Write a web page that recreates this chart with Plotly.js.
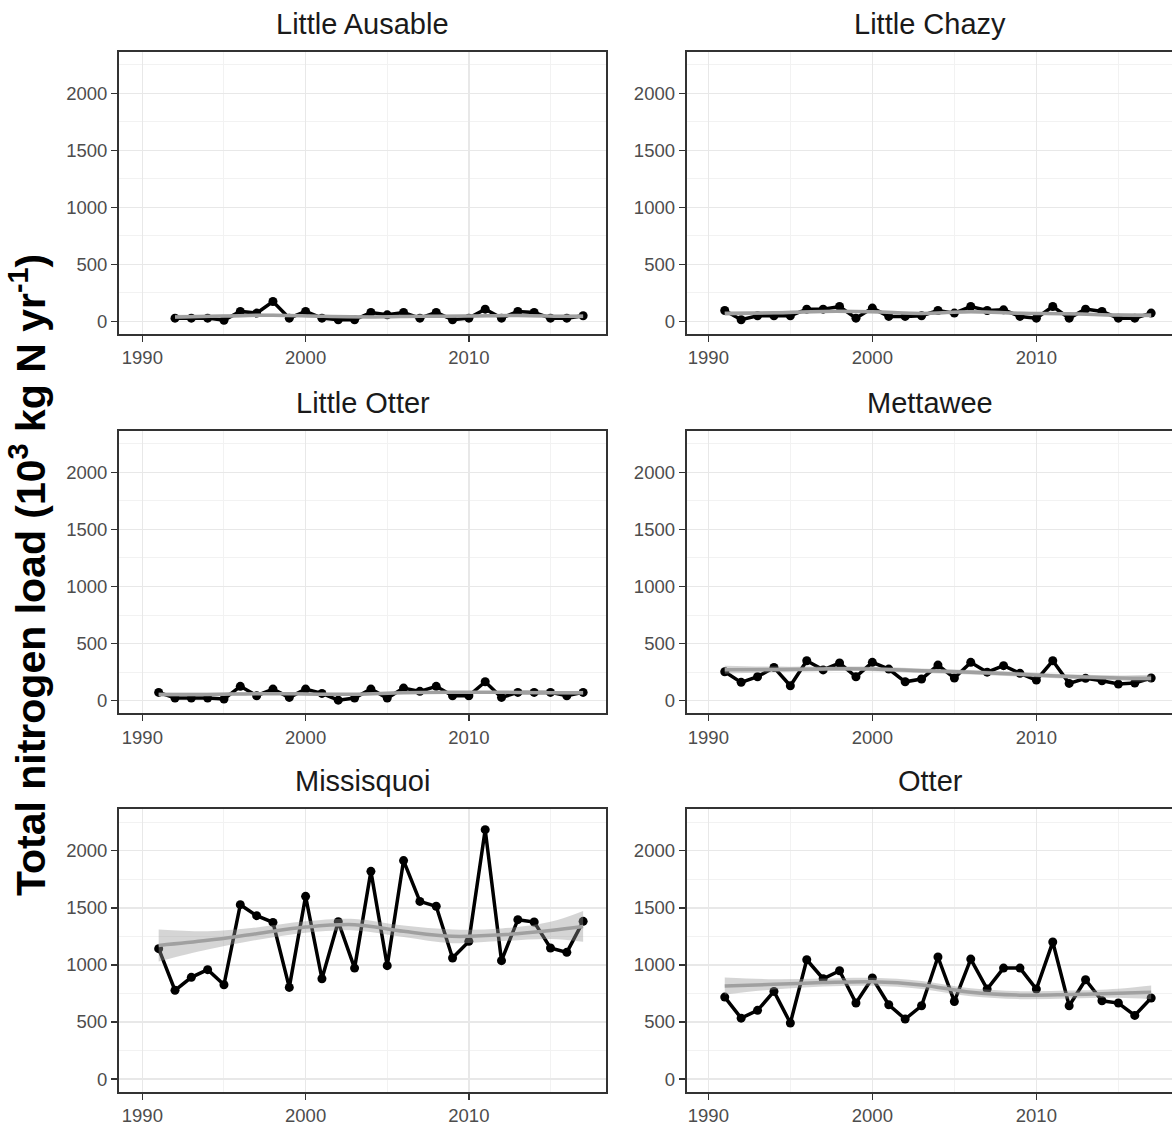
<!DOCTYPE html>
<html>
<head>
<meta charset="utf-8">
<script src="https://cdn.plot.ly/plotly-3.0.1.min.js"></script>
<style>html,body{margin:0;padding:0;background:#fff;}#chart{width:1172px;height:1125px;}</style>
</head>
<body>
<div id="chart"></div>
<script>
// ---------- data (10^3 kg N / yr) ----------
const years = [1991,1992,1993,1994,1995,1996,1997,1998,1999,2000,2001,2002,2003,2004,2005,2006,2007,2008,2009,2010,2011,2012,2013,2014,2015,2016,2017];
const yearsAusable = [1992,1993,1994,1995,1996,1997,1998,1999,2000,2001,2002,2003,2004,2005,2006,2007,2008,2009,2010,2011,2012,2013,2014,2015,2016,2017];

const littleAusable = [29,29,29,10,88,73,175,29,88,29,15,15,79,58,79,29,79,15,29,108,29,88,79,29,29,50];
const littleChazy   = [96,15,50,50,50,108,108,131,29,117,44,44,50,96,73,131,96,102,44,29,131,29,108,88,29,29,73];
const littleOtter   = [73,23,23,23,15,126,44,102,29,102,64,5,23,102,23,111,82,126,44,44,166,29,73,73,73,44,73];
const mettawee      = [254,161,210,292,131,350,270,330,210,336,277,166,190,312,199,336,250,307,240,181,350,152,196,175,146,155,199];
const missisquoi    = [1142,777,891,958,826,1527,1431,1372,803,1600,879,1378,972,1819,993,1913,1556,1513,1060,1206,2184,1037,1396,1375,1148,1110,1381];
const otter         = [718,534,602,768,491,1045,879,949,666,885,651,526,642,1069,680,1051,788,972,972,788,1200,642,870,686,666,558,710];

// smooth (loess) fit and half-width of confidence band
const smoothYears        = [1991,1994,1997,2000,2003,2006,2009,2012,2015,2017];
const smoothYearsAusable = [1992,1995,1998,2001,2004,2007,2010,2013,2016,2017];
const fitLittleAusable = [40,48,55,45,40,45,48,52,45,45];
const seLittleAusable  = [18,14,12,12,12,12,12,12,14,18];
const fitLittleChazy   = [70,76,88,85,70,85,72,68,56,55];
const seLittleChazy    = [20,15,13,13,13,13,13,13,15,20];
const fitLittleOtter   = [55,55,62,60,56,70,74,74,70,70];
const seLittleOtter    = [18,14,12,12,12,12,12,12,14,18];
const fitMettawee      = [272,274,279,278,263,250,232,212,200,196];
const seMettawee       = [35,25,20,20,20,20,20,20,22,32];
const fitMissisquoi    = [1170,1215,1273,1331,1352,1294,1250,1264,1302,1337];
const seMissisquoi     = [140,80,55,50,50,50,60,55,75,135];
const fitOtter         = [815,830,845,852,825,760,735,740,752,760];
const seOtter          = [75,45,35,35,35,35,35,35,40,60];

const panelNames = ["Little Ausable","Little Chazy","Little Otter","Mettawee","Missisquoi","Otter"];
const yTickVals = [0,500,1000,1500,2000];
const xTickVals = [1990,2000,2010];

// ---------- build ----------
const panels = [
  {name: panelNames[0], x: yearsAusable, y: littleAusable, sx: smoothYearsAusable, fit: fitLittleAusable, se: seLittleAusable},
  {name: panelNames[1], x: years, y: littleChazy, sx: smoothYears, fit: fitLittleChazy, se: seLittleChazy},
  {name: panelNames[2], x: years, y: littleOtter, sx: smoothYears, fit: fitLittleOtter, se: seLittleOtter},
  {name: panelNames[3], x: years, y: mettawee, sx: smoothYears, fit: fitMettawee, se: seMettawee},
  {name: panelNames[4], x: years, y: missisquoi, sx: smoothYears, fit: fitMissisquoi, se: seMissisquoi},
  {name: panelNames[5], x: years, y: otter, sx: smoothYears, fit: fitOtter, se: seOtter}
];

const W = 1172, H = 1125;
const colDom = [[119/W, 606/W], [686.7/W, 1.0]];
const colRange = [[1988.57, 2018.4], [1988.68, 2018.27]];
const rowTops = [52, 431, 809.3], rowBots = [334, 713.3, 1091.7];
const rowDom = rowTops.map((t,i) => [1 - rowBots[i]/H, 1 - t/H]);

const traces = [];
const layout = {
  width: W, height: H,
  margin: {l:0, r:0, t:0, b:0},
  paper_bgcolor: '#ffffff', plot_bgcolor: '#ffffff',
  showlegend: false,
  font: {family: 'Liberation Sans, Arial, sans-serif', color: '#4d4d4d'},
  annotations: []
};

panels.forEach((p, i) => {
  const r = Math.floor(i/2), c = i % 2;
  const n = i + 1;
  const xa = 'x' + (n === 1 ? '' : n), ya = 'y' + (n === 1 ? '' : n);
  const xkey = 'xaxis' + (n === 1 ? '' : n), ykey = 'yaxis' + (n === 1 ? '' : n);

  traces.push({x: p.x, y: p.y, xaxis: xa, yaxis: ya, type: 'scatter', mode: 'lines+markers',
    line: {color: '#000000', width: 3.5}, marker: {color: '#000000', size: 9}, hoverinfo: 'x+y'});
  const lo = p.fit.map((v, k) => v - p.se[k]);
  const hi = p.fit.map((v, k) => v + p.se[k]);
  traces.push({x: p.sx, y: lo, xaxis: xa, yaxis: ya, type: 'scatter', mode: 'lines',
    line: {width: 0, shape: 'spline', smoothing: 1}, hoverinfo: 'skip'});
  traces.push({x: p.sx, y: hi, xaxis: xa, yaxis: ya, type: 'scatter', mode: 'lines', fill: 'tonexty',
    fillcolor: 'rgba(150,150,150,0.4)', line: {width: 0, shape: 'spline', smoothing: 1}, hoverinfo: 'skip'});
  traces.push({x: p.sx, y: p.fit, xaxis: xa, yaxis: ya, type: 'scatter', mode: 'lines',
    line: {color: '#a0a0a0', width: 3.5, shape: 'spline', smoothing: 1}, hoverinfo: 'skip'});

  layout[xkey] = {
    domain: colDom[c], anchor: ya, range: colRange[c],
    tickvals: xTickVals, ticktext: xTickVals.map(String),
    showgrid: true, gridcolor: '#e8e8e8', gridwidth: 1.5,
    minor: {tickvals: [1995, 2005, 2015], showgrid: true, gridcolor: '#f2f2f2', gridwidth: 1, ticks: ''},
    zeroline: false, showline: true, mirror: true, linecolor: '#333333', linewidth: 2,
    ticks: 'outside', ticklen: 6, tickwidth: 1.5, tickcolor: '#333333',
    tickfont: {size: 18.5, color: '#4d4d4d'}, fixedrange: true
  };
  layout[ykey] = {
    domain: rowDom[r], anchor: xa, range: [-110, 2362],
    tickvals: yTickVals, ticktext: yTickVals.map(String),
    showgrid: true, gridcolor: '#e8e8e8', gridwidth: 1.5,
    minor: {tickvals: [250, 750, 1250, 1750, 2250], showgrid: true, gridcolor: '#f2f2f2', gridwidth: 1, ticks: ''},
    zeroline: false, showline: true, mirror: true, linecolor: '#333333', linewidth: 2,
    ticks: 'outside', ticklen: 6, tickwidth: 1.5, tickcolor: '#333333',
    tickfont: {size: 18.5, color: '#4d4d4d'}, fixedrange: true
  };

  layout.annotations.push({
    text: p.name, xref: 'paper', yref: 'paper',
    x: (colDom[c][0] + (c === 1 ? 1174/W : colDom[c][1])) / 2,
    y: rowDom[r][1], yanchor: 'bottom', xanchor: 'center', yshift: 10, showarrow: false,
    font: {size: 29, color: '#1a1a1a'}
  });
});

layout.annotations.push({
  text: 'Total nitrogen load (10<sup>3</sup> kg N yr<sup>-1</sup>)',
  xref: 'paper', yref: 'paper', x: 28/W, y: 1 - 575/H,
  xanchor: 'center', yanchor: 'middle', textangle: -90, showarrow: false,
  font: {size: 41, color: '#000000', family: 'Liberation Sans, Arial, sans-serif', weight: 'bold'}
});

Plotly.newPlot('chart', traces, layout, {displayModeBar: false, staticPlot: true});
</script>
</body>
</html>
